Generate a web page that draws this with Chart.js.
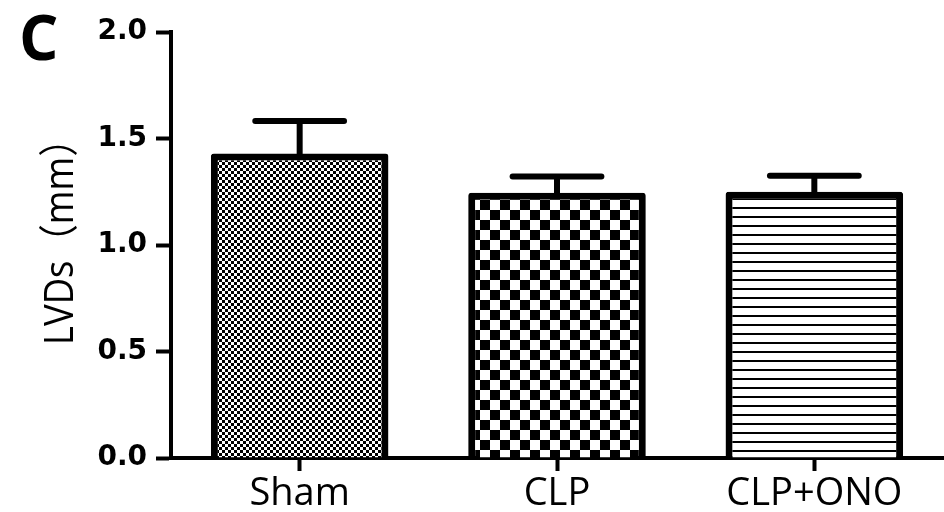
<!DOCTYPE html>
<html><head><meta charset="utf-8">
<script src="https://cdn.jsdelivr.net/npm/chart.js@4.4.0/dist/chart.umd.min.js"></script>
<style>html,body{margin:0;padding:0;background:#fff;} #wrap{width:944px;height:512px;}</style>
</head><body><div id="wrap"><canvas id="c" width="944" height="512"></canvas></div>
<script>
const categories = ['Sham', 'CLP', 'CLP+ONO'];
const meanValues = [1.43, 1.245, 1.25];
const semValues = [0.152, 0.077, 0.075];
const yTickValues = [0, 0.5, 1.0, 1.5, 2.0];
const yTickLabels = ['0.0', '0.5', '1.0', '1.5', '2.0'];
const yAxisTitle = 'LVDs（mm）';
const panelLetter = 'C';

function checker(cell) {
  const c = document.createElement('canvas');
  c.width = cell * 2; c.height = cell * 2;
  const g = c.getContext('2d');
  g.fillStyle = '#fff'; g.fillRect(0, 0, c.width, c.height);
  g.fillStyle = '#000';
  g.fillRect(0, 0, cell, cell);
  g.fillRect(cell, cell, cell, cell);
  return g.createPattern(c, 'repeat');
}
function hlines(period, thick) {
  const c = document.createElement('canvas');
  c.width = 8; c.height = period;
  const g = c.getContext('2d');
  g.fillStyle = '#fff'; g.fillRect(0, 0, 8, period);
  g.fillStyle = '#000'; g.fillRect(0, 0, 8, thick);
  return g.createPattern(c, 'repeat');
}
const fills = [checker(3), checker(10), hlines(9, 2)];

const errorBars = {
  id: 'errorBars',
  afterDatasetsDraw(chart) {
    const ctx = chart.ctx;
    const ys = chart.scales.y;
    const meta = chart.getDatasetMeta(0);
    ctx.save();
    ctx.strokeStyle = '#000';
    ctx.lineWidth = 6;
    meta.data.forEach((bar, i) => {
      const top = ys.getPixelForValue(meanValues[i] + semValues[i]);
      const half = bar.width * 0.25;
      ctx.lineCap = 'butt';
      ctx.beginPath(); ctx.moveTo(bar.x, bar.y + 3); ctx.lineTo(bar.x, top); ctx.stroke();
      ctx.lineCap = 'round';
      ctx.beginPath(); ctx.moveTo(bar.x - half, top); ctx.lineTo(bar.x + half, top); ctx.stroke();
    });
    ctx.restore();
  }
};

const textDecor = {
  id: 'textDecor',
  afterDraw(chart) {
    const ctx = chart.ctx;
    ctx.save();
    ctx.fillStyle = '#000';
    ctx.font = "bold 62px 'Open Sans'";
    ctx.textAlign = 'left';
    ctx.textBaseline = 'alphabetic';
    ctx.fillText(panelLetter, 19, 60);
    ctx.translate(73, 345);
    ctx.rotate(-Math.PI / 2);
    ctx.scale(0.91, 1);
    ctx.font = "40px 'Open Sans', 'Noto Sans CJK SC'";
    ctx.textAlign = 'left';
    ctx.textBaseline = 'alphabetic';
    ctx.fillText(yAxisTitle, 0, 0);
    ctx.restore();
  }
};

new Chart(document.getElementById('c'), {
  type: 'bar',
  data: {
    labels: categories,
    datasets: [{
      data: meanValues,
      backgroundColor: fills,
      borderColor: '#000',
      borderWidth: 7,
      borderSkipped: 'start',
      borderRadius: { topLeft: 3, topRight: 3 },
      barPercentage: 0.69,
      categoryPercentage: 1.0
    }]
  },
  options: {
    responsive: false,
    animation: false,
    devicePixelRatio: 1,
    layout: { padding: { top: 32, right: 1, left: 0, bottom: 0 } },
    plugins: { legend: { display: false }, tooltip: { enabled: false } },
    scales: {
      x: {
        grid: { display: true, drawOnChartArea: false, drawTicks: true, tickLength: 13, tickWidth: 4, tickColor: '#000', offset: false },
        border: { display: true, width: 4, color: '#000' },
        ticks: { color: '#000', font: { family: "'Open Sans'", size: 38 }, padding: 0, maxRotation: 0, autoSkip: false },
        afterFit(s) { s.height = 54; }
      },
      y: {
        min: 0, max: 2,
        ticks: {
          stepSize: 0.5, color: '#000', padding: 9,
          font: { family: 'DejaVu Sans', size: 28, weight: 'bold' },
          callback: (v) => { const i = yTickValues.findIndex(t => Math.abs(t - v) < 1e-9); return i >= 0 ? yTickLabels[i] : ''; }
        },
        grid: { display: true, drawOnChartArea: false, drawTicks: true, tickLength: 15, tickWidth: 4, tickColor: '#000' },
        border: { display: true, width: 4, color: '#000' },
        afterFit(s) { s.width = 171; }
      }
    }
  },
  plugins: [errorBars, textDecor]
});
</script>
</body></html>
